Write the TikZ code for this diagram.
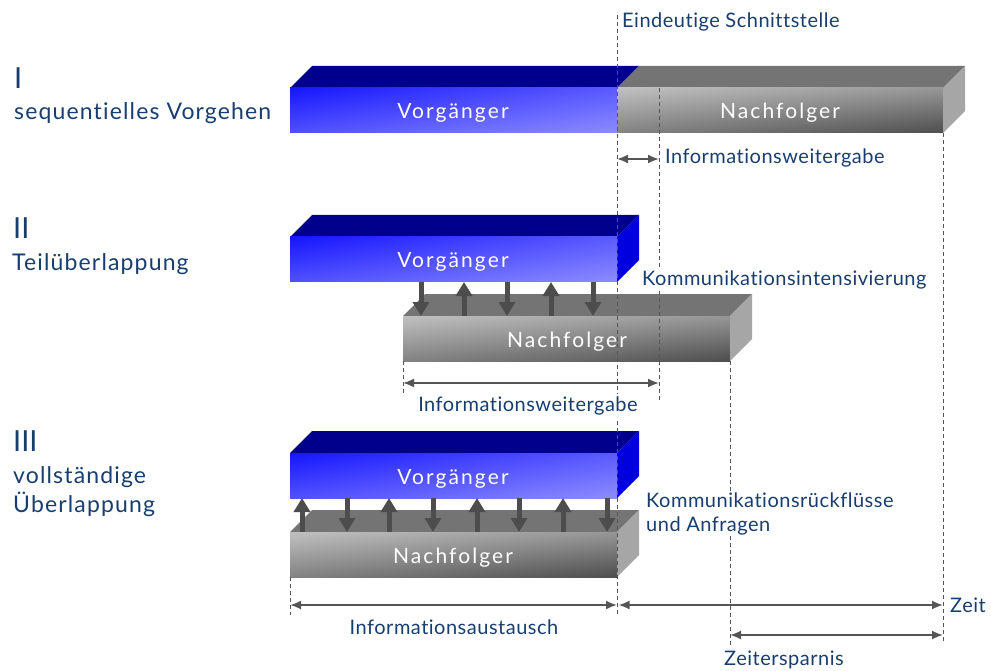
\documentclass[tikz,border=0pt]{standalone}
\usepackage{fontspec}
\setmainfont{Lato}[Ligatures=NoCommon]
\usetikzlibrary{arrows.meta,shadings}

\definecolor{txt}{RGB}{24,62,112}
\definecolor{bluetop}{RGB}{0,0,140}
\definecolor{blueside}{RGB}{0,0,222}
\definecolor{bUL}{RGB}{22,22,255}
\definecolor{bUR}{RGB}{90,90,255}
\definecolor{bLL}{RGB}{80,80,255}
\definecolor{bLR}{RGB}{140,140,255}
\definecolor{graytop}{RGB}{116,116,116}
\definecolor{grayside}{RGB}{166,166,166}
\definecolor{gUL}{RGB}{192,192,192}
\definecolor{gUR}{RGB}{150,150,150}
\definecolor{gLL}{RGB}{130,130,130}
\definecolor{gLR}{RGB}{78,78,78}
\definecolor{arrowgray}{RGB}{77,77,77}
\definecolor{dimgray}{RGB}{85,85,85}

% front face, top face and side face of a bar; #1 left, #2 right, #3 top of front face
\newcommand\bluefront[3]{\shade[upper left=bUL,upper right=bUR,lower left=bLL,lower right=bLR] (#1,#3) rectangle (#2,#3+45);}
\newcommand\graytfront[3]{\shade[upper left=gUL,upper right=gUR,lower left=gLL,lower right=gLR] (#1,#3) rectangle (#2,#3+45);}
\newcommand\barlid[4]{\fill[#4] (#1,#3) -- (#1+22,#3-22) -- (#2+22,#3-22) -- (#2,#3) -- cycle;}
\newcommand\barside[3]{\fill[#3] (#1,#2) -- (#1+22,#2-22) -- (#1+22,#2+23) -- (#1,#2+45) -- cycle;}

\tikzset{
  labeltext/.style={text=txt,font=\fontsize{20}{24.5}\selectfont\addfontfeature{LetterSpace=2.5},inner sep=1pt},
  titletext/.style={text=txt,font=\fontsize{23}{29}\selectfont\addfontfeature{LetterSpace=5},inner sep=1pt,anchor=west,align=left},
  numtext/.style={text=txt,font=\fontsize{29}{30}\selectfont,inner sep=1pt,anchor=west},
  boxtext/.style={text=white,font=\fontsize{21}{24}\selectfont\addfontfeature{LetterSpace=10},anchor=base},
  guide/.style={dimgray,line width=0.9pt,dash pattern=on 4pt off 3pt},
  dimline/.style={dimgray,line width=1.8pt,{Latex[length=11pt,width=9pt]}-{Latex[length=11pt,width=9pt]}},
  flowdown/.style={arrowgray,line width=5pt,-{Triangle[length=14pt,width=16pt]}},
}

\begin{document}
\begin{tikzpicture}[x=1pt,y=-1pt]
\useasboundingbox (0,0) rectangle (991,671);

% ---------- I: sequential ----------
\barlid{290}{617}{88}{bluetop}
\barlid{617}{943}{88}{graytop}
\bluefront{290}{617}{88}
\graytfront{617}{943}{88}
\barside{943}{88}{grayside}

% ---------- II: partial overlap ----------
\barlid{290}{617}{237}{bluetop}
\bluefront{290}{617}{237}
\barside{617}{237}{blueside}
\barlid{403}{730}{316}{graytop}
\graytfront{403}{730}{316}
\barside{730}{316}{grayside}
\foreach \x in {421,507,593} \draw[flowdown] (\x,282) -- (\x,316);
\foreach \x in {464,551} \draw[flowdown] (\x,316) -- (\x,282);

% ---------- III: full overlap ----------
\barlid{290}{617}{453}{bluetop}
\bluefront{290}{617}{453}
\barside{617}{453}{blueside}
\barlid{290}{617}{532}{graytop}
\graytfront{290}{617}{532}
\barside{617}{532}{grayside}
\foreach \x in {347,433,519,607} \draw[flowdown] (\x,498) -- (\x,532);
\foreach \x in {302,389,477,563} \draw[flowdown] (\x,532) -- (\x,498);

% bar captions (placed on their baselines)
\node[boxtext] (v1) at (453,119) {Vorgänger};
\node[boxtext] (n1) at (780,119) {Nachfolger};
\node[boxtext] (v2) at (453,268) {Vorgänger};
\node[boxtext] (n2) at (567,347) {Nachfolger};
\node[boxtext] (v3) at (453,484) {Vorgänger};
\node[boxtext] (n3) at (453,563) {Nachfolger};

% ---------- guide lines ----------
\coordinate (s0) at (617,15);  \coordinate (s1) at (617,615);
\coordinate (w0) at (659,88);  \coordinate (w1) at (659,400);
\coordinate (e0) at (943,133); \coordinate (e1) at (943,644);
\coordinate (m0) at (730,361); \coordinate (m1) at (730,647);
\coordinate (p0) at (403,361); \coordinate (p1) at (403,395);
\coordinate (q0) at (290,577); \coordinate (q1) at (290,615);
\foreach \a/\b in {s0/s1,w0/w1,e0/e1,m0/m1,p0/p1,q0/q1} \draw[guide] (\a) -- (\b);

% ---------- dimension arrows ----------
\coordinate (d1a) at (617,159); \coordinate (d1b) at (659,159);
\coordinate (d2a) at (403,383); \coordinate (d2b) at (659,383);
\coordinate (d3a) at (290,605); \coordinate (d3b) at (617,605);
\coordinate (d4a) at (617,605); \coordinate (d4b) at (943,605);
\coordinate (d5a) at (730,635); \coordinate (d5b) at (943,635);
\draw[dimline] (d1a) -- (d1b);
\draw[dimline] (d2a) -- (d2b);
\draw[dimline] (d3a) -- (d3b);
\draw[dimline,shorten <=1.5pt] (d4a) -- (d4b);
\draw[dimline] (d5a) -- (d5b);

% ---------- labels ----------
\node[labeltext,anchor=west] (schnitt) at (621,22) {Eindeutige Schnittstelle};
\node[labeltext,anchor=west] (iw1) at (664,158) {Informationsweitergabe};
\node[labeltext,anchor=west,fill=white] (kint) at (641,280) {Kommunikationsintensivierung};
\node[labeltext,fill=white,inner sep=3pt] (iw2) at (528,406) {Informationsweitergabe};
\node[labeltext,anchor=west,fill=white,align=left] (krf) at (645,514) {Kommunikationsrückflüsse\\und Anfragen};
\node[labeltext] (iaus) at (454,627) {Informationsaustausch};
\node[labeltext,anchor=west] (zeit) at (949,605) {Zeit};
\node[labeltext] (zsp) at (784,660) {Zeitersparnis};

% row titles
\node[numtext] (r1) at (13,78) {I};
\node[titletext] (t1) at (13,113) {sequentielles Vorgehen};
\node[numtext] (r2) at (12,228) {II};
\node[titletext] (t2) at (11,264) {Teilüberlappung};
\node[numtext] (r3) at (12,441) {III};
\node[titletext] (t3) at (12,492) {vollständige\\Überlappung};
\end{tikzpicture}
\end{document}
